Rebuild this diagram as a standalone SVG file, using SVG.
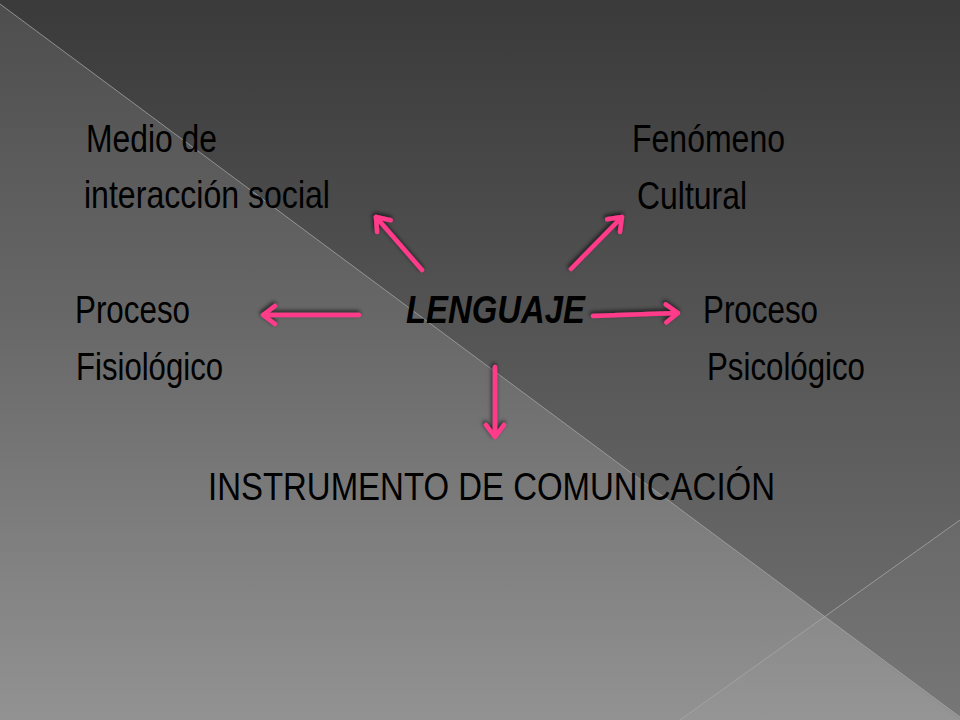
<svg xmlns="http://www.w3.org/2000/svg" width="960" height="720" viewBox="0 0 960 720">
  <defs>
    <linearGradient id="gDark" x1="0" y1="0" x2="0" y2="1">
      <stop offset="0" stop-color="#3a3a3a"/>
      <stop offset="0.5" stop-color="#575757"/>
      <stop offset="1" stop-color="#727272"/>
    </linearGradient>
    <linearGradient id="gLight" x1="0" y1="0" x2="0" y2="1">
      <stop offset="0" stop-color="#4e4e4e"/>
      <stop offset="0.45" stop-color="#686868"/>
      <stop offset="1" stop-color="#929292"/>
    </linearGradient>
    <filter id="shadow" x="-30%" y="-30%" width="160%" height="160%">
      <feDropShadow dx="-1" dy="-2" stdDeviation="2" flood-color="#000" flood-opacity="0.7"/>
    </filter>
    <style>
      .t { font-family: "Liberation Sans", Arial, sans-serif; font-size: 39px; fill: #000; }
      .b { font-weight: bold; font-style: italic; }
      .arrow { fill: none; stroke: #ff3a8a; stroke-width: 4.5; stroke-linecap: round; stroke-linejoin: round; }
      .bgline { stroke: #a8a8a8; stroke-width: 1; stroke-opacity: 0.75; fill: none; }
    </style>
  </defs>

  <g id="background">
    <rect x="0" y="0" width="960" height="720" fill="url(#gDark)"/>
    <polygon points="0,4 960,717 960,720 0,720" fill="url(#gLight)"/>
    <polygon points="960,520 823,617 960,717" fill="#ffffff" fill-opacity="0.04"/>
    <polygon points="823,617 680,720 960,720" fill="#ffffff" fill-opacity="0.03"/>
    <line class="bgline" x1="0" y1="4" x2="960" y2="717"/>
    <line class="bgline" x1="960" y1="520" x2="680" y2="720"/>
  </g>

  <g id="connectors" filter="url(#shadow)">
    <path class="arrow" d="M422,270 L376,217 M390.7,220.2 L376,217 L377.1,232"/>
    <path class="arrow" d="M571,269 L622,217 M607.2,219.3 L622,217 L620,231.9"/>
    <path class="arrow" d="M359,315 L263,315 M275,306 L263,315 L275,324"/>
    <path class="arrow" d="M593,316 L678,313 M665.7,304.4 L678,313 L666.3,322.4"/>
    <path class="arrow" d="M495,367 L495,437 M486,425 L495,437 L504,425"/>
  </g>

  <g id="node-medio">
    <text class="t" x="86" y="152" textLength="131" lengthAdjust="spacingAndGlyphs">Medio de</text>
    <text class="t" x="84" y="208" textLength="246" lengthAdjust="spacingAndGlyphs">interacción  social</text>
  </g>
  <g id="node-fenomeno">
    <text class="t" x="632" y="152" textLength="153" lengthAdjust="spacingAndGlyphs">Fenómeno</text>
    <text class="t" x="637" y="209" textLength="110" lengthAdjust="spacingAndGlyphs">Cultural</text>
  </g>
  <g id="node-fisiologico">
    <text class="t" x="75" y="323" textLength="115" lengthAdjust="spacingAndGlyphs">Proceso</text>
    <text class="t" x="76" y="380" textLength="147" lengthAdjust="spacingAndGlyphs">Fisiológico</text>
  </g>
  <g id="node-lenguaje">
    <text class="t b" x="406" y="323" textLength="179" lengthAdjust="spacingAndGlyphs">LENGUAJE</text>
  </g>
  <g id="node-psicologico">
    <text class="t" x="703" y="323" textLength="115" lengthAdjust="spacingAndGlyphs">Proceso</text>
    <text class="t" x="707" y="380" textLength="158" lengthAdjust="spacingAndGlyphs">Psicológico</text>
  </g>
  <g id="node-instrumento">
    <text class="t" x="208" y="500" textLength="567" lengthAdjust="spacingAndGlyphs">INSTRUMENTO DE COMUNICACIÓN</text>
  </g>
</svg>
